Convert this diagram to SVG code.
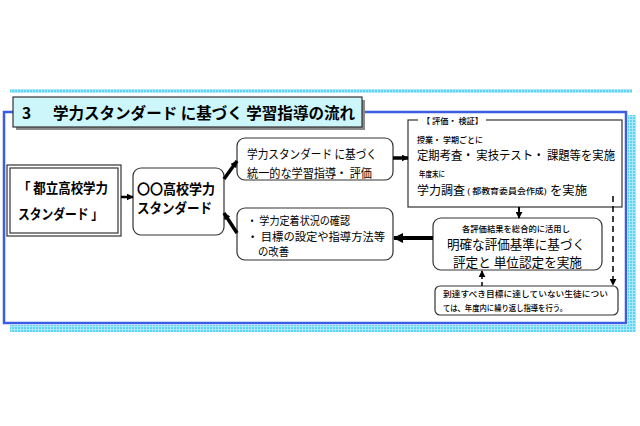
<svg xmlns="http://www.w3.org/2000/svg" width="640" height="426" viewBox="0 0 640 426">
<defs>
<pattern id="cy" width="3" height="3" patternUnits="userSpaceOnUse">
<rect width="3" height="3" fill="#5fd3f2"/>
<rect x="2" width="1" height="3" fill="#a9e9fa"/>
<rect y="2" width="3" height="1" fill="#a9e9fa"/>
</pattern>
<marker id="ah" viewBox="0 0 10 10" refX="9" refY="5" markerWidth="10" markerHeight="10" markerUnits="userSpaceOnUse" orient="auto">
<path d="M0,0 L10,5 L0,10 Z" fill="#000"/>
</marker>
<marker id="ahs" viewBox="0 0 10 10" refX="9" refY="5" markerWidth="7" markerHeight="7" markerUnits="userSpaceOnUse" orient="auto">
<path d="M0,0 L10,5 L0,10 Z" fill="#000"/>
</marker>
</defs>
<style>
text{font-family:"Noto Sans CJK JP","Noto Sans",sans-serif;fill:#000;dominant-baseline:central}
.b{font-weight:bold}
.m{font-weight:500}
.box{fill:#fff;stroke:#333;stroke-width:1.2}
.con{stroke:#000;fill:none}
</style>
<rect width="640" height="426" fill="#fff"/>
<g id="frame">
<rect x="10" y="89" width="622" height="4" fill="url(#cy)"/>
<rect x="628" y="115" width="8" height="217" fill="url(#cy)"/>
<rect x="10" y="325" width="626" height="7" fill="url(#cy)"/>
<rect x="4" y="112" width="622" height="211" fill="#fff" stroke="#3b5de4" stroke-width="2.5"/>
</g>
<g id="title">
<rect x="16" y="100" width="349" height="30" fill="#8a8a8a"/>
<rect x="13" y="97" width="349" height="30" fill="#cdf6fb" stroke="#333" stroke-width="1.2"/>
<text x="22" y="112" class="b" font-size="15.5">3</text>
<text x="53" y="112" class="b" font-size="15.5" textLength="302" lengthAdjust="spacingAndGlyphs">学力スタンダード に基づく 学習指導の流れ</text>
</g>
<g id="tokyo-standard">
<rect x="7" y="165" width="114" height="71" fill="#fff" stroke="#333" stroke-width="1.2"/>
<rect x="10" y="168" width="108" height="65" fill="none" stroke="#333" stroke-width="1.2"/>
<text x="18" y="187" class="b" font-size="14" textLength="90" lengthAdjust="spacingAndGlyphs">「 都立高校学力</text>
<text x="18" y="213" class="b" font-size="14" textLength="85" lengthAdjust="spacingAndGlyphs">スタンダード 」</text>
</g>
<g id="school-standard">
<rect x="133" y="168" width="91" height="67" rx="8" class="box"/>
<text x="137" y="188" class="b" font-size="14" textLength="78" lengthAdjust="spacingAndGlyphs">〇〇高校学力</text>
<text x="137" y="207" class="b" font-size="14" textLength="75" lengthAdjust="spacingAndGlyphs">スタンダード</text>
</g>
<g id="guidance">
<rect x="237" y="138" width="156" height="42" rx="8" class="box"/>
<text x="247" y="153" font-size="12" textLength="130" lengthAdjust="spacingAndGlyphs">学力スタンダード に基づく</text>
<text x="247" y="172" font-size="12" textLength="125" lengthAdjust="spacingAndGlyphs">統一的な学習指導・ 評価</text>
</g>
<g id="improve">
<rect x="237" y="208" width="156" height="52" rx="8" class="box"/>
<text x="247" y="220" font-size="11.5" textLength="103" lengthAdjust="spacingAndGlyphs">・ 学力定着状況の確認</text>
<text x="247" y="235.5" font-size="11.5" textLength="138" lengthAdjust="spacingAndGlyphs">・ 目標の設定や指導方法等</text>
<text x="258" y="251" font-size="11.5" textLength="31" lengthAdjust="spacingAndGlyphs">の改善</text>
</g>
<g id="evaluation">
<rect x="408" y="120" width="214" height="87" fill="#fff" stroke="#333" stroke-width="1.2"/>
<rect x="418" y="114" width="68" height="12" fill="#fff"/>
<text x="422" y="120" class="m" font-size="8" textLength="61" lengthAdjust="spacingAndGlyphs">【 評価・ 検証】</text>
<text x="417" y="139" class="m" font-size="8.5" textLength="66" lengthAdjust="spacingAndGlyphs">授業・ 学期ごとに</text>
<text x="417" y="154" font-size="12.5" textLength="198" lengthAdjust="spacingAndGlyphs">定期考査・ 実技テスト・ 課題等を実施</text>
<text x="419" y="173" class="m" font-size="8.5" textLength="26" lengthAdjust="spacingAndGlyphs">年度末に</text>
<text x="417" y="189" font-size="12.5" textLength="48" lengthAdjust="spacingAndGlyphs">学力調査</text>
<text x="467" y="190" class="m" font-size="7.5" textLength="80" lengthAdjust="spacingAndGlyphs">( 都教育委員会作成)</text>
<text x="550" y="189" font-size="12.5" textLength="37" lengthAdjust="spacingAndGlyphs">を実施</text>
</g>
<g id="grading">
<rect x="433" y="218" width="169" height="52" rx="8" class="box"/>
<text x="462" y="228" class="m" font-size="8.5" textLength="108" lengthAdjust="spacingAndGlyphs">各評価結果を総合的に活用し</text>
<text x="447" y="243" font-size="13" textLength="138" lengthAdjust="spacingAndGlyphs">明確な評価基準に基づく</text>
<text x="453" y="261" font-size="13" textLength="129" lengthAdjust="spacingAndGlyphs">評定と 単位認定を実施</text>
</g>
<g id="repeat">
<rect x="435" y="286" width="183" height="29" rx="5" class="box"/>
<text x="443" y="293" class="m" font-size="8.5" textLength="165" lengthAdjust="spacingAndGlyphs">到達すべき目標に達していない生徒につい</text>
<text x="443" y="307" class="m" font-size="8.5" textLength="124" lengthAdjust="spacingAndGlyphs">ては、年度内に繰り返し指導を行う。</text>
</g>
<g id="connectors">
<line x1="121" y1="197" x2="133" y2="197" class="con" stroke-width="2.5" marker-end="url(#ahs)"/>
<line x1="224" y1="179" x2="237" y2="161" class="con" stroke-width="3.5" marker-end="url(#ahs)"/>
<line x1="237" y1="233" x2="224" y2="213" class="con" stroke-width="3.5" marker-end="url(#ahs)"/>
<line x1="393" y1="158" x2="408" y2="158" class="con" stroke-width="3.5" marker-end="url(#ahs)"/>
<line x1="519" y1="207" x2="519" y2="218" class="con" stroke-width="2" marker-end="url(#ahs)"/>
<line x1="433" y1="238" x2="394" y2="238" class="con" stroke-width="4" marker-end="url(#ah)"/>
<line x1="482" y1="286" x2="482" y2="271" class="con" stroke-width="1.5" stroke-dasharray="4,3" marker-end="url(#ahs)"/>
<line x1="613" y1="196" x2="613" y2="285" class="con" stroke-width="1.5" stroke-dasharray="6,4" marker-end="url(#ahs)"/>
</g>
</svg>
